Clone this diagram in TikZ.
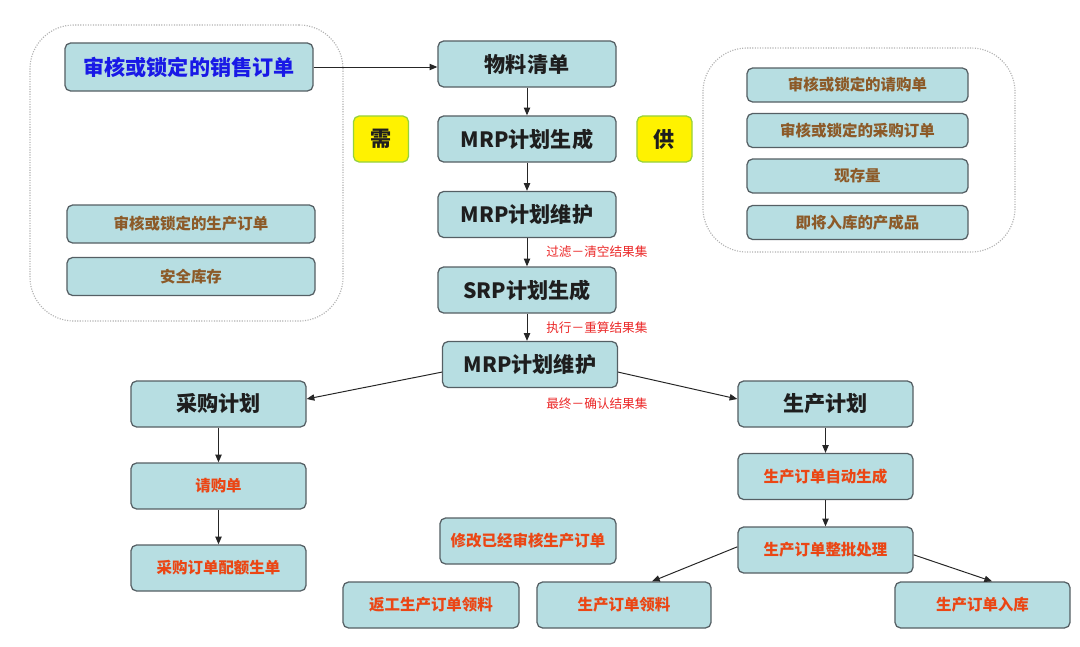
\documentclass[tikz,border=0pt]{standalone}
\usepackage{fontspec}
\setmainfont{Noto Sans CJK SC}
\usepackage{xcolor}
\usetikzlibrary{positioning,arrows.meta}

\definecolor{boxfill}{RGB}{183,222,226}
\definecolor{boxline}{RGB}{85,95,100}
\definecolor{maintext}{RGB}{30,30,30}
\definecolor{salesblue}{RGB}{25,25,230}
\definecolor{stockbrown}{RGB}{140,90,40}
\definecolor{orderred}{RGB}{235,70,20}
\definecolor{notered}{RGB}{235,40,40}
\definecolor{tagline}{RGB}{150,210,60}

\begin{document}
\begin{tikzpicture}[x=0.025cm, y=-0.025cm,
    flow/.style={-{Triangle[length=5.5pt,width=4.5pt]}, draw=black!85, line width=0.7pt},
    plan/.style={draw=boxline, fill=boxfill, line width=0.9pt, rounded corners=4pt,
      inner sep=0pt, align=center, minimum height=1.15cm, text=maintext,
      font=\fontsize{15}{18}\selectfont\bfseries},
    suborder/.style={plan, text=orderred, font=\fontsize{11}{13}\selectfont\bfseries},
    stockbox/.style={plan, text=stockbrown, font=\fontsize{11}{13}\selectfont\bfseries},
    sidetag/.style={draw=tagline, fill=yellow, line width=0.9pt, rounded corners=4pt,
      minimum width=1.375cm, minimum height=1.15cm, text=maintext,
      font=\fontsize{15}{18}\selectfont\bfseries},
    panel/.style={draw=gray!60, densely dotted, line width=0.8pt, rounded corners=1.1cm, inner sep=0pt},
    note/.style={anchor=west, text=notered, inner sep=0pt, font=\fontsize{9}{11}\selectfont}]
  \useasboundingbox (0,0) rectangle (1080,646);

  % ---- Demand side ----
  \node[panel, minimum width=7.825cm, minimum height=7.4cm] (demandgrp) at (186.5,173) {};
  \node[plan, minimum width=6.2cm, minimum height=1.2cm, text=salesblue] (sales) at (189,67) {审核或锁定的销售订单};
  \node[stockbox, minimum width=6.2cm, minimum height=0.95cm] (prodorder) at (191,224) {审核或锁定的生产订单};
  \node[stockbox, minimum width=6.2cm, minimum height=0.95cm] (safety) at (191,276.5) {安全库存};
  \node[sidetag] (need) at (381,139) {需};

  % ---- Supply side ----
  \node[panel, minimum width=7.8cm, minimum height=5.1cm] (supplygrp) at (859,150) {};
  \node[stockbox, minimum width=5.525cm, minimum height=0.85cm] (requis) at (857.5,85) {审核或锁定的请购单};
  \node[stockbox, minimum width=5.525cm, minimum height=0.85cm] (purorder) at (857.5,130.5) {审核或锁定的采购订单};
  \node[stockbox, minimum width=5.525cm, minimum height=0.85cm] (onhand) at (857.5,176) {现存量};
  \node[stockbox, minimum width=5.525cm, minimum height=0.85cm] (incoming) at (857.5,222.5) {即将入库的产成品};
  \node[sidetag] (supply) at (664.5,139) {供};

  % ---- Planning run ----
  \node[plan, minimum width=4.45cm] (bom) at (527,64) {物料清单};
  \node[plan, minimum width=4.45cm] (mrpgen) at (527,139) {MRP计划生成};
  \node[plan, minimum width=4.45cm] (mrpmaint) at (527,214.5) {MRP计划维护};
  \node[plan, minimum width=4.45cm] (srpgen) at (527,290) {SRP计划生成};
  \node[plan, minimum width=4.375cm] (mrpfinal) at (530,364.5) {MRP计划维护};
  \node[note] (filterlbl) at (546,252) {过滤－清空结果集};
  \node[note] (execlbl) at (546,328) {执行－重算结果集};
  \node[note] (finallbl) at (546,404) {最终－确认结果集};

  % ---- Purchase branch ----
  \node[plan, minimum width=4.375cm] (purplan) at (218.5,404) {采购计划};
  \node[suborder, minimum width=4.375cm] (reqbill) at (218.5,486) {请购单};
  \node[suborder, minimum width=4.375cm] (quota) at (218.5,568) {采购订单配额生单};

  % ---- Production branch ----
  \node[plan, minimum width=4.375cm] (prodplan) at (825.5,404) {生产计划};
  \node[suborder, minimum width=4.375cm] (autogen) at (825.5,476.5) {生产订单自动生成};
  \node[suborder, minimum width=4.375cm] (batch) at (825.5,550) {生产订单整批处理};
  \node[suborder, minimum width=4.4cm] (modify) at (528,541) {修改已经审核生产订单};
  \node[suborder, minimum width=4.4cm] (rework) at (431,605) {返工生产订单领料};
  \node[suborder, minimum width=4.35cm] (issue) at (624,605) {生产订单领料};
  \node[suborder, minimum width=4.375cm] (store) at (982.5,605) {生产订单入库};

  % Connectors
  \draw[flow] (sales.east) -- (sales.east -| bom.west);
  \draw[flow] (bom) -- (mrpgen);
  \draw[flow] (mrpgen) -- (mrpmaint);
  \draw[flow] (mrpmaint) -- (srpgen);
  \draw[flow] (srpgen) -- (srpgen |- mrpfinal.north);
  \draw[flow] ([yshift=-0.19cm]mrpfinal.west) -- ([yshift=0.125cm]purplan.east);
  \draw[flow] ([yshift=-0.19cm]mrpfinal.east) -- ([yshift=0.125cm]prodplan.west);
  \draw[flow] (purplan) -- (reqbill);
  \draw[flow] (reqbill) -- (quota);
  \draw[flow] (prodplan) -- (autogen);
  \draw[flow] (autogen) -- (batch);
  \draw[flow] ([yshift=0.08cm]batch.west) -- ([xshift=0.7cm]issue.north);
  \draw[flow] ([yshift=-0.12cm]batch.east) -- ([xshift=0.24cm]store.north);
\end{tikzpicture}
\end{document}
